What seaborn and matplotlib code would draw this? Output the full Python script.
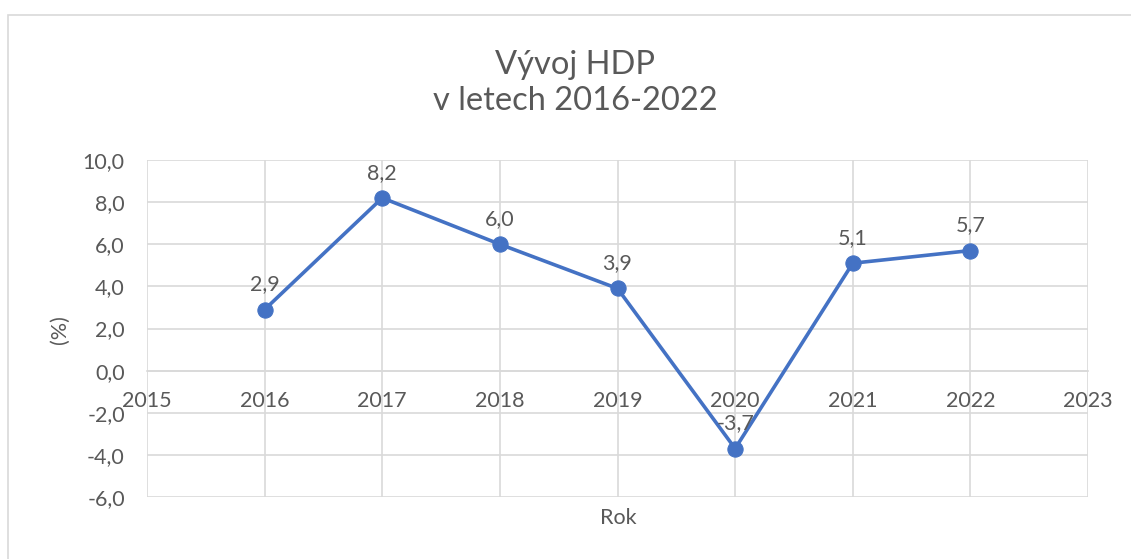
import matplotlib
matplotlib.use("Agg")
import matplotlib.pyplot as plt
import matplotlib.patches as patches
import seaborn as sns
import pandas as pd

years = [2016, 2017, 2018, 2019, 2020, 2021, 2022]
hdp = [2.9, 8.2, 6.0, 3.9, -3.7, 5.1, 5.7]
x_ticks = [2015, 2016, 2017, 2018, 2019, 2020, 2021, 2022, 2023]
y_ticks = [-6, -4, -2, 0, 2, 4, 6, 8, 10]

sns.set_style("white")
plt.rcParams['font.family'] = ['Lato', 'DejaVu Sans']
txt = "#595959"
grid = "#D9D9D9"
blue = "#4472C4"

df = pd.DataFrame({"Rok": years, "HDP": hdp})

fig = plt.figure(figsize=(11.31, 5.59), dpi=100)
ax = fig.add_axes([147/1131, 62/559, (1088-147)/1131, (497-160)/559])

sns.lineplot(data=df, x="Rok", y="HDP", ax=ax, color=blue, linewidth=2.6,
             marker="o", markersize=11, markeredgecolor=blue, zorder=3)

for x, y in zip(years, hdp):
    ax.annotate(f"{y:.1f}".replace(".", ","), (x, y), xytext=(0, 11),
                textcoords="offset points", ha="center", va="bottom",
                fontsize=15.5, color=txt, zorder=4)

ax.set_xlim(2015, 2023)
ax.set_ylim(-6, 10)
ax.set_xticks(x_ticks)
ax.set_yticks(y_ticks)
ax.set_yticklabels([f"{v:.1f}".replace(".", ",") for v in y_ticks])
ax.grid(True, color=grid, linewidth=1.2)
ax.set_axisbelow(True)
for s in ["top", "left", "right"]:
    ax.spines[s].set_visible(False)
ax.spines["bottom"].set_position(("data", 0))
ax.spines["bottom"].set_color(grid)
ax.spines["bottom"].set_linewidth(1.2)
ax.tick_params(axis="x", length=0, pad=15, labelsize=15.5, labelcolor=txt)
ax.tick_params(axis="y", length=0, pad=16, labelsize=15.5, labelcolor=txt)

ax.set_xlabel("")
ax.set_ylabel("")
fig.text(618/1131, 1 - 518/559, "Rok", ha="center", va="center", fontsize=15.5, color=txt)
fig.text(60/1131, 1 - 330/559, "(%)", ha="center", va="center", rotation=90, fontsize=15.5, color=txt)
fig.text(575/1131, 1 - 83/559, "Vývoj HDP\nv letech 2016-2022", ha="center", va="center",
         fontsize=23.5, color=txt, linespacing=1.25)

fig.patches.append(patches.Rectangle((8/1131, -0.1), 1.2, 1.1 - 15/559, transform=fig.transFigure,
                                     fill=False, edgecolor=grid, linewidth=1.2))

fig.savefig("out.png", dpi=100)
